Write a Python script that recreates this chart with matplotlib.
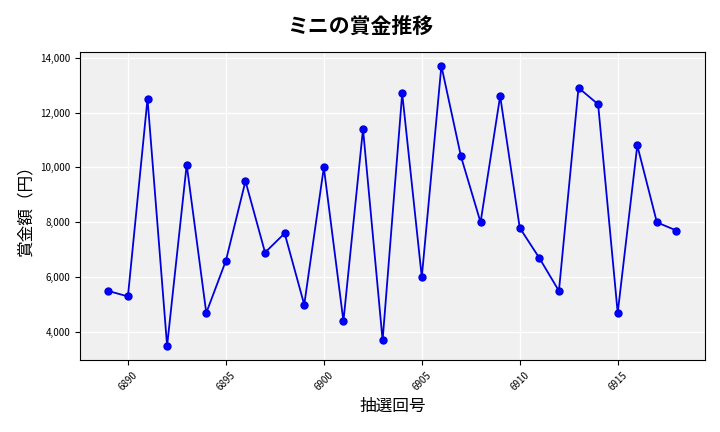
import matplotlib
matplotlib.use("Agg")
import matplotlib.pyplot as plt
from matplotlib.ticker import FuncFormatter

plt.rcParams['font.family'] = ['Noto Sans CJK JP', 'DejaVu Sans']

draws = list(range(6889, 6919))
prizes = [5500, 5300, 12500, 3500, 10100, 4700, 6600, 9500, 6900, 7600,
          5000, 10000, 4400, 11400, 3700, 12700, 6000, 13700, 10400, 8000,
          12600, 7800, 6700, 5500, 12900, 12300, 4700, 10800, 8000, 7700]

fig = plt.figure(figsize=(7.2, 4.32), dpi=100)
ax = fig.add_axes([0.111, 0.167, 0.868, 0.713])
ax.set_facecolor('#f0f0f0')
ax.grid(True, color='white', linewidth=1)
ax.set_axisbelow(True)
ax.plot(draws, prizes, color='#0000dd', marker='o', markersize=5, linewidth=1.3, markerfacecolor='#0000ff')
ax.set_xticks(range(6890, 6919, 5))
ax.yaxis.set_major_formatter(FuncFormatter(lambda v, p: f"{int(v):,}"))
ax.tick_params(axis='x', labelrotation=45, labelsize=7)
ax.tick_params(axis='y', labelsize=7)
ax.set_xlabel('抽選回号', fontsize=12)
ax.set_ylabel('賞金額（円）', fontsize=12)
fig.suptitle('ミニの賞金推移', fontsize=15, fontweight='bold', y=0.963)
fig.savefig('out.png', dpi=100)
